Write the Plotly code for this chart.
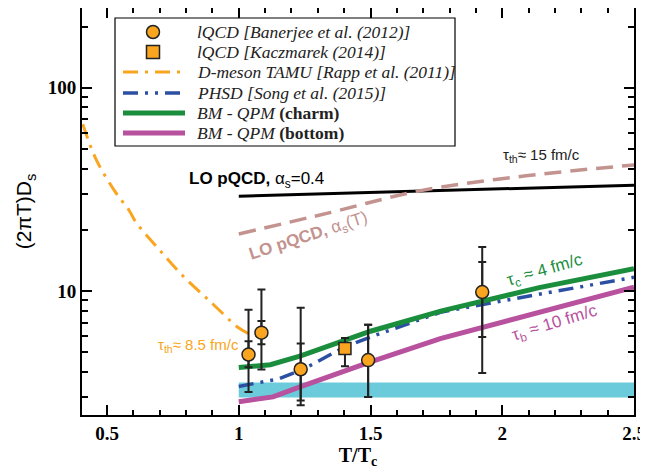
import numpy as np
import plotly.graph_objects as go

# lQCD, Banerjee et al. (2012)
ban_T = [1.037, 1.086, 1.235, 1.491, 1.924]
ban_D = [4.88, 6.25, 4.13, 4.58, 9.9]
ban_err_hi = [3.23, 3.95, 4.16, 2.26, 6.6]
ban_err_lo = [1.69, 2.13, 1.38, 1.56, 5.94]
ban_in_hi = [0.79, 0.88, 1.40, 2.26, 4.0]
ban_in_lo = [0.65, 0.77, 1.23, 1.56, 3.95]

# lQCD, Kaczmarek (2014)
kac_T = [1.403]
kac_D = [5.22]
kac_err_hi = [0.67]
kac_err_lo = [0.95]

# D-meson TAMU
tamu_T = [0.408, 0.458, 0.528, 0.584, 0.61, 0.698, 0.793, 0.894, 0.995, 1.035]
tamu_D = [66.2, 44.6, 31.2, 24.9, 21.8, 16.0, 11.7, 8.84, 6.66, 6.2]

# PHSD
phsd_T = [1.0, 1.15, 1.24, 1.4, 1.5, 1.77, 2.15, 2.5]
phsd_D = [3.4, 3.7, 4.1, 5.3, 5.95, 7.9, 9.7, 11.7]

# BM-QPM charm / bottom
charm_T = [1.0, 1.12, 1.235, 1.5, 1.77, 2.14, 2.5]
charm_D = [4.21, 4.35, 4.8, 6.35, 8.0, 10.4, 12.9]
bottom_T = [1.0, 1.13, 1.235, 1.5, 1.765, 2.144, 2.5]
bottom_D = [2.86, 3.02, 3.39, 4.49, 5.84, 7.89, 10.46]

# LO pQCD
lo_T = [1.0, 1.5, 2.0, 2.5]
lo_D = [29.3, 30.6, 31.9, 33.2]
lot_T = [1.0, 1.35, 1.69, 2.09, 2.5]
lot_D = [19.1, 24.4, 31.2, 36.9, 41.7]

# band
band_T = [1.0, 2.5]
band_lo = [3.0, 3.0]
band_hi = [3.55, 3.55]

ORANGE = "#f9a520"
BLUE = "#2b4fa3"
GREEN = "#1b8e3e"
MAGENTA = "#b8519e"
ROSY = "#c3938f"
CYAN = "#6ccbdb"
DARK = "#222222"

fig = go.Figure()

fig.add_trace(go.Scatter(x=band_T, y=band_lo, mode="lines", line=dict(width=0),
                         showlegend=False, hoverinfo="skip"))
fig.add_trace(go.Scatter(x=band_T, y=band_hi, mode="lines", line=dict(width=0),
                         fill="tonexty", fillcolor=CYAN, showlegend=False, hoverinfo="skip"))

fig.add_trace(go.Scatter(x=lo_T, y=lo_D, mode="lines", line=dict(color="black", width=3),
                         showlegend=False))
fig.add_trace(go.Scatter(x=lot_T, y=lot_D, mode="lines", line=dict(color=ROSY, width=3.5, dash="17px,9px"),
                         line_shape="spline", showlegend=False))
fig.add_trace(go.Scatter(x=tamu_T, y=tamu_D, mode="lines", line=dict(color=ORANGE, width=3, dash="15px,7px,3px,7px"),
                         line_shape="spline", showlegend=False))
fig.add_trace(go.Scatter(x=phsd_T, y=phsd_D, mode="lines",
                         line=dict(color=BLUE, width=3.5, dash="15px,7px,3px,7px,3px,7px"),
                         showlegend=False))
fig.add_trace(go.Scatter(x=charm_T, y=charm_D, mode="lines", line=dict(color=GREEN, width=5),
                         showlegend=False))
fig.add_trace(go.Scatter(x=bottom_T, y=bottom_D, mode="lines", line=dict(color=MAGENTA, width=5),
                         showlegend=False))

# inner error caps
fig.add_trace(go.Scatter(x=ban_T, y=ban_D, mode="markers", marker=dict(size=1, color="rgba(0,0,0,0)"),
                         error_y=dict(type="data", array=ban_in_hi, arrayminus=ban_in_lo,
                                      color=DARK, thickness=2, width=4),
                         showlegend=False))
fig.add_trace(go.Scatter(x=ban_T, y=ban_D, mode="markers",
                         marker=dict(symbol="circle", size=13, color=ORANGE, line=dict(color=DARK, width=1.5)),
                         error_y=dict(type="data", array=ban_err_hi, arrayminus=ban_err_lo,
                                      color=DARK, thickness=2, width=4),
                         showlegend=False))
fig.add_trace(go.Scatter(x=kac_T, y=kac_D, mode="markers",
                         marker=dict(symbol="square", size=12, color=ORANGE, line=dict(color=DARK, width=1.5)),
                         error_y=dict(type="data", array=kac_err_hi, arrayminus=kac_err_lo,
                                      color=DARK, thickness=2, width=4),
                         showlegend=False))

# page has an 8px body margin, so the figure is 8px smaller and shifted
W, H = 640, 464
OFF = 8
L, R, T, B = 82 - OFF, 634 - OFF, 0, 415 - OFF


def px(x, y):
    # reference pixel -> paper coords
    return (x - OFF - L) / (R - L), (B - (y - OFF)) / (B - T)


shapes = []
annotations = []

# hand-made legend
x0, y0 = px(115, 18)
x1, y1 = px(455, 146)
shapes.append(dict(type="rect", xref="paper", yref="paper", x0=x0, x1=x1, y0=y1, y1=y0,
                   line=dict(color="black", width=1.2), fillcolor="white", layer="above"))

leg_rows = [
    ("circle", None, None, "<i>lQCD [Banerjee et al. (2012)]</i>"),
    ("square", None, None, "<i>lQCD [Kaczmarek (2014)]</i>"),
    ("line", ORANGE, ("15px,7px,3px,7px", 3), "<i>D-meson TAMU [Rapp et al. (2011)]</i>"),
    ("line", BLUE, ("15px,7px,3px,7px,3px,7px", 3.5), "<i>PHSD [Song et al. (2015)]</i>"),
    ("line", GREEN, ("solid", 5), "<i>BM - QPM</i> <b>(charm)</b>"),
    ("line", MAGENTA, ("solid", 5), "<i>BM - QPM</i> <b>(bottom)</b>"),
]
row_y = [32, 52, 72, 93, 113, 133]
for (kind, col, sty, label), ry in zip(leg_rows, row_y):
    if kind == "line":
        a, b = px(123, ry)
        c, _ = px(185, ry)
        shapes.append(dict(type="line", xref="paper", yref="paper", x0=a, x1=c, y0=b, y1=b,
                           line=dict(color=col, width=sty[1], dash=sty[0]), layer="above"))
    else:
        a, b = px(153, ry)
        shapes.append(dict(type="circle" if kind == "circle" else "rect", xref="paper", yref="paper",
                           xsizemode="pixel", ysizemode="pixel", xanchor=a, yanchor=b,
                           x0=-6.5, x1=6.5, y0=-6.5, y1=6.5,
                           fillcolor=ORANGE, line=dict(color=DARK, width=1.5), layer="above"))
    a, b = px(195, ry)
    annotations.append(dict(xref="paper", yref="paper", x=a, y=b, xanchor="left", yanchor="middle",
                            text=label, showarrow=False,
                            font=dict(family="Liberation Serif", size=17.5, color=DARK)))


def data_note(T_, D_, text, color, size, angle=0):
    annotations.append(dict(x=T_, y=np.log10(D_), text=text, showarrow=False, textangle=angle,
                            xanchor="center", yanchor="middle",
                            font=dict(family="Liberation Sans", size=size, color=color)))


data_note(2.148, 46.2, "τ<sub>th</sub>≈ 15 fm/c", DARK, 15)
data_note(1.068, 35.3, "<b>LO pQCD,</b> α<sub>s</sub>=0.4", "black", 17)
data_note(1.265, 18.5, "<b>LO pQCD,</b> α<sub>s</sub>(T)", ROSY, 17, -18)
data_note(2.163, 12.6, "τ<sub>c</sub> ≈ 4 fm/c", GREEN, 17, -16)
data_note(2.2, 6.87, "τ<sub>b</sub> ≈ 10 fm/c", MAGENTA, 17, -17)
data_note(0.848, 5.42, "τ<sub>th</sub>≈ 8.5 fm/c", ORANGE, 15)

tick_font = dict(family="Liberation Serif", size=19, color="black", weight="bold")

fig.update_layout(
    width=W, height=H,
    margin=dict(l=L, r=W - R, t=T, b=H - B, autoexpand=False),
    paper_bgcolor="white", plot_bgcolor="white",
    showlegend=False,
    shapes=shapes, annotations=annotations,
    xaxis=dict(
        range=[0.405, 2.5], tickvals=[0.5, 1, 1.5, 2, 2.5], ticktext=["0.5", "1", "1.5", "2", "2.5"],
        ticks="inside", ticklen=10, tickwidth=2, tickcolor="black",
        minor=dict(dtick=0.1, tick0=0, ticks="inside", ticklen=5, tickwidth=1.5, tickcolor="black"),
        showline=True, linewidth=2, linecolor="black", mirror="ticks",
        showgrid=False, zeroline=False, tickfont=tick_font,
        title=dict(text="<b>T/T<sub>c</sub></b>", font=dict(family="Liberation Serif", size=20, color="black"),
                   standoff=2),
    ),
    yaxis=dict(
        type="log", range=[0.391, 2.392], tickvals=[10, 100], ticktext=["10", "100"],
        ticks="inside", ticklen=10, tickwidth=2, tickcolor="black",
        minor=dict(tickvals=[3, 4, 5, 6, 7, 8, 9, 20, 30, 40, 50, 60, 70, 80, 90, 200],
                   ticks="inside", ticklen=6, tickwidth=1.5, tickcolor="black"),
        showline=True, linewidth=2, linecolor="black", mirror="ticks",
        showgrid=False, zeroline=False, tickfont=tick_font,
        title=dict(text="(2πT)D<sub>s</sub>", font=dict(family="Liberation Sans", size=21, color="black"),
                   standoff=10),
    ),
)

fig.write_html("out.html")
